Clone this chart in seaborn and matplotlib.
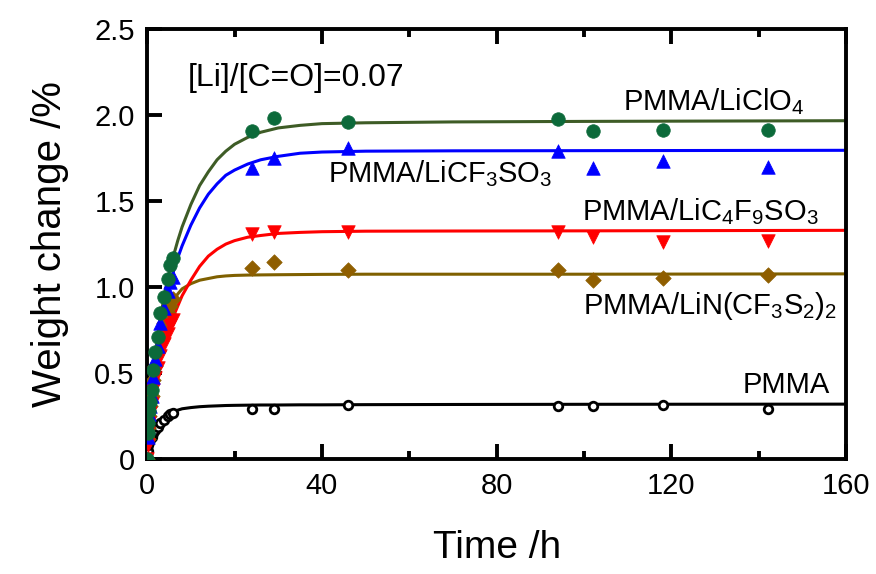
import matplotlib
matplotlib.use("Agg")
import matplotlib.pyplot as plt
from matplotlib.ticker import MultipleLocator
import seaborn as sns

# measured points (time in h, weight change in %)
t_points = [0, 0.1, 0.25, 0.5, 0.75, 1.0, 1.25, 1.75, 2.5, 3.0, 3.75, 4.75, 5.25, 6.0,
            24, 29, 46, 94, 102, 118, 142]
pmma_pts = [0, 0.05, 0.08, 0.10, 0.12, 0.13, 0.15, 0.17, 0.19, 0.21, 0.23, 0.25, 0.26, 0.27,
            0.29, 0.29, 0.315, 0.31, 0.31, 0.315, 0.29]
licf3so3_pts = [0, 0.13, 0.19, 0.26, 0.31, 0.37, 0.48, 0.58, 0.66, 0.79, 0.88, 0.98, 1.03, 1.06,
                1.69, 1.75, 1.81, 1.79, 1.69, 1.73, 1.70]
lic4f9so3_pts = [0, 0.08, 0.15, 0.21, 0.27, 0.32, 0.40, 0.47, 0.53, 0.60, 0.67, 0.73, 0.78, 0.81,
                 1.31, 1.32, 1.32, 1.32, 1.29, 1.265, 1.27]
lin_pts = [0, 0.12, 0.18, 0.25, 0.31, 0.37, 0.46, 0.54, 0.63, 0.72, 0.79, 0.85, 0.89, 0.93,
           1.11, 1.145, 1.10, 1.10, 1.04, 1.055, 1.07]
liclo4_pts = [0, 0.15, 0.21, 0.28, 0.335, 0.40, 0.52, 0.625, 0.71, 0.85, 0.94, 1.05, 1.13, 1.17,
              1.91, 1.985, 1.96, 1.975, 1.91, 1.915, 1.915]

# fitted curves
t_curve = [0, 1, 2, 3, 4, 5, 6, 7, 8, 10, 12, 14, 16, 18, 20, 23, 26, 30, 35, 40, 50, 70, 100, 160]
pmma_fit = [0, 0.13, 0.17, 0.205, 0.235, 0.255, 0.27, 0.285, 0.293, 0.30, 0.305, 0.308, 0.31,
            0.312, 0.313, 0.314, 0.315, 0.315, 0.316, 0.316, 0.317, 0.318, 0.319, 0.32]
licf3so3_fit = [0, 0.40, 0.60, 0.76, 0.89, 1.00, 1.09, 1.17, 1.24, 1.36, 1.46, 1.54, 1.60, 1.65,
                1.68, 1.715, 1.74, 1.76, 1.778, 1.785, 1.79, 1.792, 1.793, 1.795]
lic4f9so3_fit = [0, 0.28, 0.45, 0.58, 0.68, 0.76, 0.83, 0.89, 0.95, 1.04, 1.12, 1.18, 1.22, 1.25,
                 1.27, 1.29, 1.30, 1.312, 1.318, 1.322, 1.325, 1.326, 1.327, 1.33]
lin_fit = [0, 0.33, 0.52, 0.66, 0.77, 0.86, 0.92, 0.96, 0.99, 1.02, 1.04, 1.05, 1.06, 1.065,
           1.068, 1.07, 1.071, 1.072, 1.073, 1.074, 1.075, 1.075, 1.075, 1.077]
liclo4_fit = [0, 0.42, 0.64, 0.82, 0.96, 1.08, 1.18, 1.27, 1.35, 1.48, 1.59, 1.67, 1.74, 1.79,
              1.83, 1.87, 1.90, 1.925, 1.94, 1.95, 1.955, 1.96, 1.963, 1.967]

x_ticks = [0, 40, 80, 120, 160]
y_ticks = [0, 0.5, 1.0, 1.5, 2.0, 2.5]
y_tick_labels = ["0", "0.5", "1.0", "1.5", "2.0", "2.5"]

sns.set_style("ticks")
plt.rcParams["font.family"] = ["Liberation Sans", "DejaVu Sans"]
plt.rcParams["mathtext.fontset"] = "custom"
plt.rcParams["mathtext.rm"] = "Liberation Sans"
plt.rcParams["mathtext.it"] = "Liberation Sans:italic"
for key in ["text.color", "axes.labelcolor", "xtick.color", "ytick.color", "axes.edgecolor"]:
    plt.rcParams[key] = "black"

fig, ax = plt.subplots(figsize=(8.76, 5.74), dpi=100)
fig.subplots_adjust(left=0.168, right=0.966, top=0.9495, bottom=0.2)

# curves
sns.lineplot(x=t_curve, y=pmma_fit, color="black", linewidth=2.2, ax=ax, zorder=2)
sns.lineplot(x=t_curve, y=lin_fit, color="#7f6000", linewidth=2.2, ax=ax, zorder=2)
sns.lineplot(x=t_curve, y=lic4f9so3_fit, color="#ff0000", linewidth=2.2, ax=ax, zorder=2)
sns.lineplot(x=t_curve, y=licf3so3_fit, color="#0000ff", linewidth=2.2, ax=ax, zorder=2)
sns.lineplot(x=t_curve, y=liclo4_fit, color="#3e5c26", linewidth=2.2, ax=ax, zorder=2)

# points
sns.scatterplot(x=t_points, y=pmma_pts, marker="o", s=38, facecolor="white",
                edgecolor="black", linewidth=2.0, ax=ax, zorder=3)
sns.scatterplot(x=t_points, y=lin_pts, marker="D", s=62, color="#8f5e00",
                edgecolor="#8f5e00", linewidth=0.5, ax=ax, zorder=4)
sns.scatterplot(x=t_points, y=lic4f9so3_pts, marker="v", s=95, color="#ff0000",
                edgecolor="#ff0000", linewidth=0.5, ax=ax, zorder=4)
sns.scatterplot(x=t_points, y=licf3so3_pts, marker="^", s=95, color="#0000ff",
                edgecolor="#0000ff", linewidth=0.5, ax=ax, zorder=4)
sns.scatterplot(x=t_points, y=liclo4_pts, marker="o", s=95, color="#0c6a3a",
                edgecolor="#0c6a3a", linewidth=0.5, ax=ax, zorder=5)

# labels on the chart
ax.text(9.4, 2.215, "[Li]/[C=O]=0.07", fontsize=23, ha="left", va="center")
ax.text(109, 2.08, r"PMMA/LiClO$_4$", fontsize=21, ha="left", va="center")
ax.text(41.4, 1.66, r"PMMA/LiCF$_3$SO$_3$", fontsize=21, ha="left", va="center")
ax.text(99.5, 1.44, r"PMMA/LiC$_4$F$_9$SO$_3$", fontsize=21, ha="left", va="center")
ax.text(99.8, 0.89, r"PMMA/LiN(CF$_3$S$_2$)$_2$", fontsize=21, ha="left", va="center")
ax.text(136.4, 0.43, "PMMA", fontsize=21, ha="left", va="center")

ax.set_xlim(0, 160)
ax.set_ylim(0, 2.5)
ax.set_xticks(x_ticks)
ax.set_yticks(y_ticks)
ax.set_yticklabels(y_tick_labels)
ax.xaxis.set_minor_locator(MultipleLocator(20))
ax.tick_params(which="major", direction="in", length=11, width=2.8, labelsize=21,
               top=True, right=False, pad=9)
ax.tick_params(which="minor", direction="in", length=6, width=2.8, top=True, right=False)
for side in ax.spines.values():
    side.set_linewidth(2.8)
    side.set_visible(True)

ax.set_xlabel("Time /h", fontsize=28, labelpad=22)
ax.set_ylabel("Weight change /%", fontsize=29, labelpad=18)

fig.savefig("out.png", dpi=100)
